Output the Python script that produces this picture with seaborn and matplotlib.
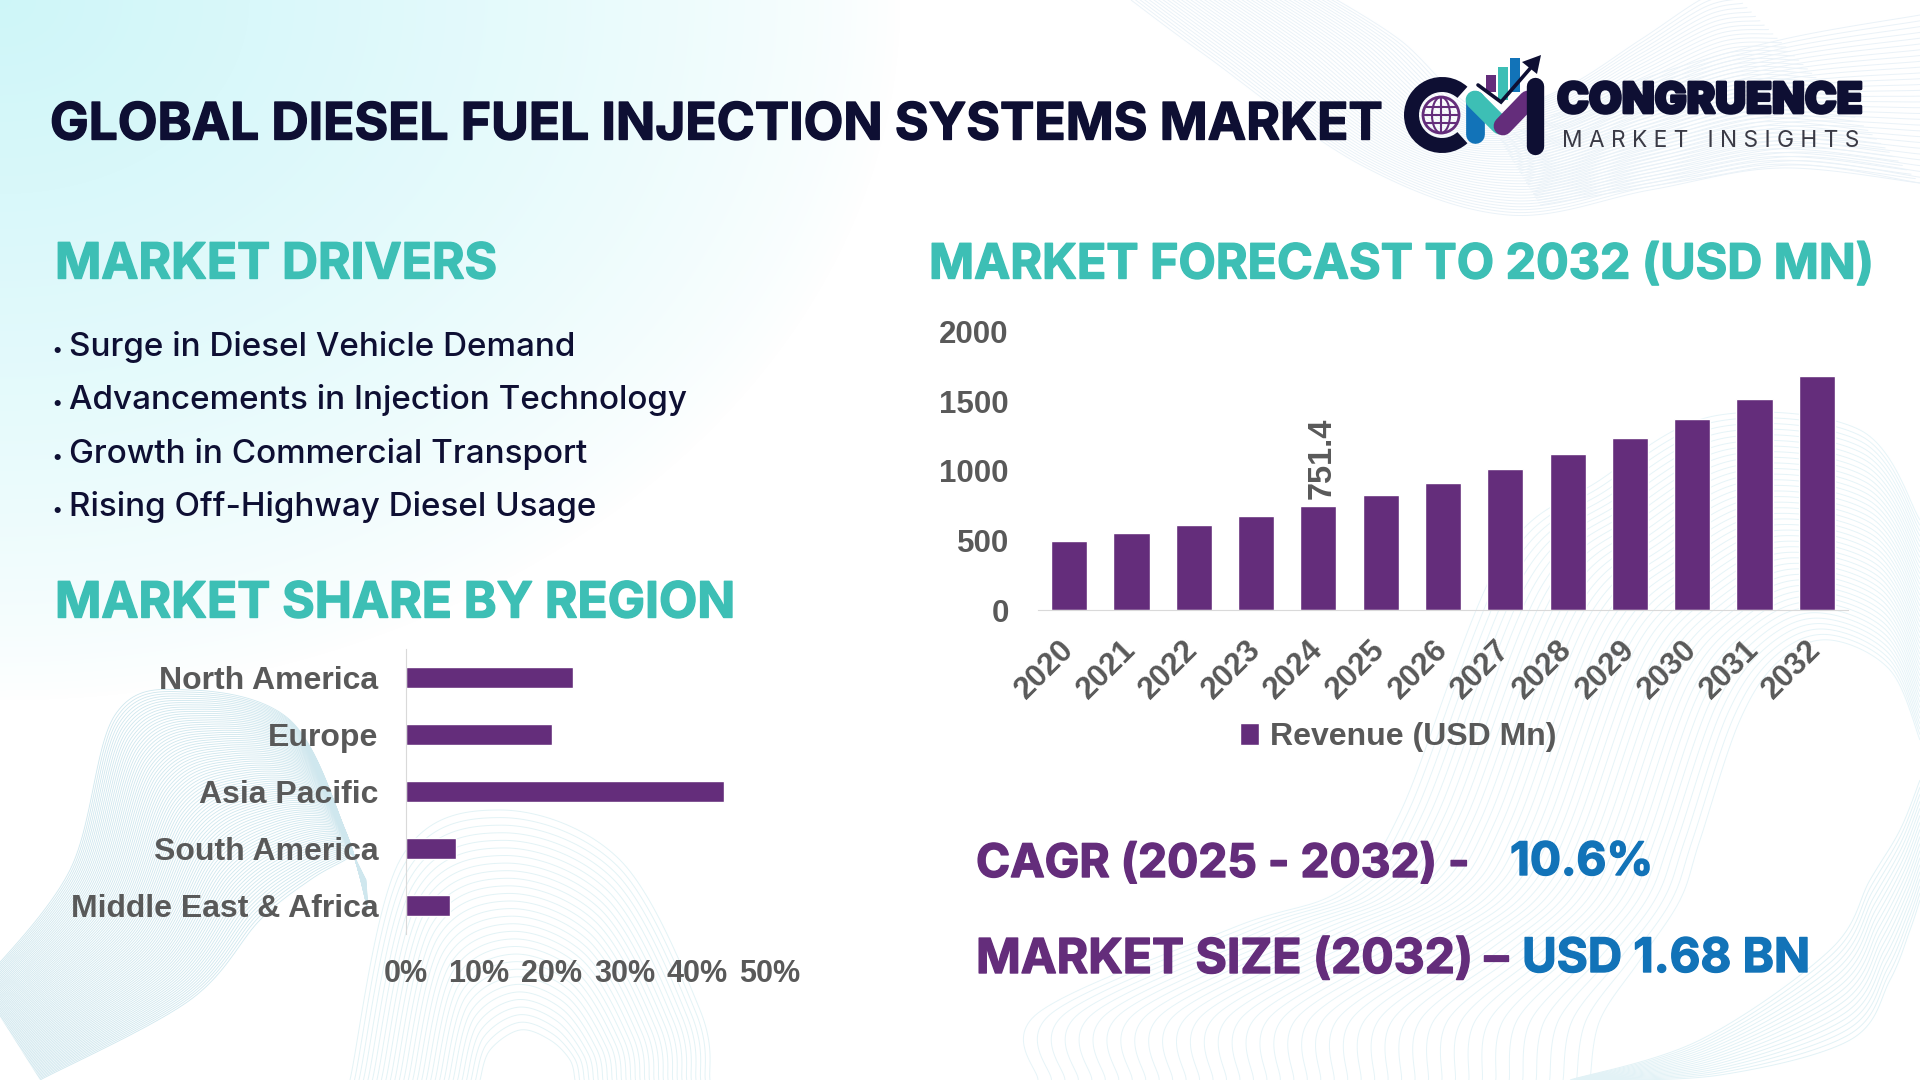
import numpy as np
import pandas as pd
import matplotlib
matplotlib.use("Agg")
import matplotlib.pyplot as plt
import matplotlib.patheffects as pe
import seaborn as sns
from matplotlib.collections import LineCollection
from matplotlib.patches import Circle, Ellipse, Wedge, Rectangle, Polygon

years = ["2020", "2021", "2022", "2023", "2024", "2025", "2026", "2027", "2028", "2029", "2030", "2031", "2032"]
revenue = [497, 554, 612, 677, 751.4, 828, 914, 1015, 1123, 1238, 1375, 1519, 1680]
revenue_labels = ["", "", "", "", "751.4", "", "", "", "", "", "", "", ""]
revenue_ticks = [0, 500, 1000, 1500, 2000]

regions = ["North America", "Europe", "Asia Pacific", "South America", "Middle East & Africa"]
shares = [22.9, 20.0, 43.7, 6.9, 6.1]
share_ticks = [0, 10, 20, 30, 40, 50]

drivers = [
    "Surge in Diesel Vehicle Demand",
    "Advancements in Injection Technology",
    "Growth in Commercial Transport",
    "Rising Off-Highway Diesel Usage",
]

NAVY = "#0E0F33"
TEAL = "#3DBFB5"
PURPLE = "#642D7B"
BLUE = "#1273B8"
GREY = "#595959"
WIDTH, HEIGHT = 1920, 1080

sns.set_style("white")
plt.rcParams["font.family"] = ["Liberation Sans", "DejaVu Sans"]
plt.rcParams["font.weight"] = "bold"

fig = plt.figure(figsize=(19.2, 10.8), dpi=100)
fig.patch.set_facecolor("white")


def px_axes(left, top, right, bottom):
    return fig.add_axes([left / WIDTH, 1 - bottom / HEIGHT, (right - left) / WIDTH, (bottom - top) / HEIGHT])


def spline(pts, n=30):
    p = np.array(pts, float)
    p = np.vstack([p[0], p, p[-1]])
    t = np.linspace(0, 1, n)[:, None]
    out = []
    for i in range(1, len(p) - 2):
        out.append(0.5 * (2 * p[i] + (p[i + 1] - p[i - 1]) * t
                          + (2 * p[i - 1] - 5 * p[i] + 4 * p[i + 1] - p[i + 2]) * t ** 2
                          + (3 * p[i] - p[i - 1] - 3 * p[i + 1] + p[i + 2]) * t ** 3))
    return np.vstack(out)


def ribbon(ax, curve_a, curve_b, n_lines, color, lw=0.7, alpha=1.0):
    a, b = spline(curve_a), spline(curve_b)
    lines = [(1 - s) * a + s * b for s in np.linspace(0, 1, n_lines)]
    ax.add_collection(LineCollection(lines, colors=color, linewidths=lw, alpha=alpha, zorder=0.5))


def fit_text(ax, x0, x1, baseline, label, color, family="Inter", weight="bold", stroke=0.0):
    txt = ax.text(x0, baseline, label, color=color, family=[family, "DejaVu Sans"], weight=weight,
                  fontsize=30, ha="left", va="baseline")
    renderer = fig.canvas.get_renderer()
    txt.set_fontsize(30 * (x1 - x0) / txt.get_window_extent(renderer).width)
    if stroke:
        txt.set_path_effects([pe.withStroke(linewidth=stroke, foreground=color)])
    return txt


# background layer, drawn in pixel coordinates
bg = fig.add_axes([0, 0, 1, 1], zorder=0)
bg.set_xlim(0, WIDTH)
bg.set_ylim(HEIGHT, 0)
bg.axis("off")

yy, xx = np.mgrid[0:HEIGHT, 0:WIDTH]
fade = np.clip(1 - np.sqrt((xx / 900) ** 2 + (yy / 700) ** 2), 0, 1) ** 0.75
rgb = np.ones((HEIGHT, WIDTH, 3))
tint = np.array([0.81, 0.965, 0.975])
rgb = rgb * (1 - fade[..., None]) + tint * fade[..., None]
bg.imshow(rgb, extent=(0, WIDTH, HEIGHT, 0), aspect="auto", zorder=0)

# wave line families
ribbon(bg, [(1131, 0), (1205, 55), (1361, 165), (1508, 215), (1650, 190), (1780, 168), (1920, 183)],
       [(1320, -10), (1400, 40), (1480, 110), (1560, 90), (1640, 40), (1700, 0), (1730, -10)], 45, "#EAF2F8")
ribbon(bg, [(1500, 140), (1640, 80), (1780, 40), (1920, 15)],
       [(1540, 205), (1690, 180), (1800, 165), (1920, 183)], 30, "#EAF2F8")
ribbon(bg, [(1038, 1080), (1038, 1013), (1235, 927), (1341, 890), (1400, 813), (1500, 560), (1600, 480), (1714, 416), (1860, 430), (1920, 520)],
       [(1590, 1080), (1600, 1020), (1640, 960), (1680, 900), (1700, 840), (1740, 720), (1780, 660), (1830, 640), (1890, 670), (1920, 740)], 42, "#E6F4F8")
ribbon(bg, [(1570, 1080), (1700, 1040), (1830, 950), (1870, 880), (1900, 830), (1920, 780)],
       [(1590, 1080), (1720, 1075), (1850, 1040), (1890, 980), (1910, 930), (1920, 900)], 18, "#E2F2F6")
ribbon(bg, [(-20, 985), (70, 870), (115, 715), (190, 690), (290, 720), (345, 830), (368, 910)],
       [(40, 1080), (190, 1000), (260, 920), (310, 880), (345, 860), (352, 855), (366, 880)], 90, "#CFE7EE", lw=0.6)
ribbon(bg, [(350, 1080), (400, 860), (500, 810), (620, 860), (700, 1010), (710, 1080)],
       [(480, 1080), (490, 1050), (520, 1030), (550, 1040), (570, 1060), (575, 1080)], 30, "#E3F3F6")

# header and section text
fit_text(bg, 50, 1382, 139.5, "GLOBAL DIESEL FUEL INJECTION SYSTEMS MARKET", NAVY, stroke=1.0)
fit_text(bg, 55, 497, 278.5, "MARKET DRIVERS", TEAL, stroke=1.0)
fit_text(bg, 55, 735, 617.5, "MARKET SHARE BY REGION", TEAL, stroke=1.0)
fit_text(bg, 929, 1873, 278.5, "MARKET FORECAST TO 2032 (USD MN)", TEAL, stroke=1.0)

driver_size = fit_text(bg, 69, 688, 409, drivers[1], NAVY, weight="medium").get_fontsize()
for label, baseline in zip([drivers[0], drivers[2], drivers[3]], [356, 463, 516]):
    bg.text(69, baseline, label, color=NAVY, family=["Inter", "DejaVu Sans"], weight="medium", fontsize=driver_size)
for baseline in [356, 409, 463, 516]:
    bg.text(52, baseline, "•", color=NAVY, family=["Inter", "DejaVu Sans"], fontsize=14)

fit_text(bg, 976, 1469, 877, "CAGR (2025 - 2032) -", PURPLE, stroke=1.0)
fit_text(bg, 1510, 1653, 875, "10.6%", BLUE, stroke=1.0)
fit_text(bg, 976, 1508, 973, "MARKET SIZE (2032) –", PURPLE, stroke=1.0)
fit_text(bg, 1522, 1810, 972, "USD 1.68 BN", BLUE, stroke=1.0)

# logo
bg.add_patch(Wedge((1442, 115), 38, 48, 312, width=15, color=NAVY, lw=0))
bg.add_patch(Circle((1441, 115), 18, fill=False, ec=PURPLE, lw=2))
bg.add_patch(Ellipse((1441, 115), 18, 36, fill=False, ec=PURPLE, lw=1.5))
for dy in (-8, 0, 8):
    half = np.sqrt(18 ** 2 - dy ** 2)
    bg.plot([1441 - half, 1441 + half], [115 + dy, 115 + dy], color=PURPLE, lw=1.5)
bg.plot([1441, 1441], [97, 133], color=PURPLE, lw=1.5)
for x0, top, bottom, col in [(1486, 75, 92, PURPLE), (1498, 67, 100, TEAL), (1510, 58, 92, BLUE)]:
    bg.add_patch(Rectangle((x0, top), 9.5, bottom - top, color=col, lw=0))
bg.plot([1475, 1475], [100, 134], color=BLUE, lw=13.5, solid_capstyle="round")
bg.plot([1475, 1500], [100, 125], color=TEAL, lw=13.5, solid_capstyle="round")
bg.plot([1503, 1528], [126, 100], color=PURPLE, lw=13.5, solid_capstyle="round")
bg.plot([1534.5, 1534.5], [86, 146], color=NAVY, lw=12.5, solid_capstyle="round")
bg.plot([1478, 1501, 1534], [85, 102, 64], color=NAVY, lw=2.6, solid_joinstyle="miter")
bg.add_patch(Polygon([(1541, 55), (1522, 62), (1537, 74)], color=NAVY, lw=0))
fit_text(bg, 1557, 1863, 113, "CONGRUENCE", NAVY, weight="black", stroke=2.0)
fit_text(bg, 1562, 1860, 147, "M A R K E T   I N S I G H T S", "#3A3A45", weight="normal")

# revenue forecast chart
ax_rev = px_axes(1038, 332, 1848, 610)
ax_rev.patch.set_visible(False)
sns.barplot(x=years, y=revenue, color=PURPLE, saturation=1, width=0.58, label="Revenue (USD Mn)", ax=ax_rev)
ax_rev.set_ylim(0, 2000)
ax_rev.set_yticks(revenue_ticks)
ax_rev.set_xlabel("")
ax_rev.set_ylabel("")
bar_texts = ax_rev.bar_label(ax_rev.containers[0], labels=revenue_labels, rotation=90, color=GREY, fontsize=23.5, padding=5)
for t in bar_texts:
    t.xyann = (3, t.xyann[1])
sns.despine(ax=ax_rev, left=True)
ax_rev.spines["bottom"].set_color("#D9D9D9")
ax_rev.tick_params(axis="y", length=0, pad=21, labelsize=22.5, labelcolor=GREY)
ax_rev.tick_params(axis="x", length=0, pad=25, labelsize=22.5, labelcolor=GREY)
plt.setp(ax_rev.get_xticklabels(), rotation=45, ha="right", rotation_mode="anchor", va="center")
ax_rev.legend(loc="center", bbox_to_anchor=((1398 - 1038) / 810, 1 - (737 - 332) / 278), frameon=False,
              fontsize=23, labelcolor=GREY, handlelength=0.6, handleheight=0.7, handletextpad=0.35)

# regional share chart
ax_share = px_axes(406, 649, 770, 934)
ax_share.patch.set_visible(False)
sns.barplot(y=regions, x=shares, orient="h", color=PURPLE, saturation=1, width=0.37, ax=ax_share)
ax_share.set_xlim(0, 50)
ax_share.set_xticks(share_ticks)
ax_share.set_xticklabels([f"{v}%" for v in share_ticks])
ax_share.set_xlabel("")
ax_share.set_ylabel("")
sns.despine(ax=ax_share, bottom=True)
ax_share.spines["left"].set_color("#D9D9D9")
ax_share.tick_params(axis="x", length=0, pad=18, labelsize=22, labelcolor=GREY)
ax_share.tick_params(axis="y", length=0, pad=20, labelsize=23, labelcolor=GREY)

fig.savefig("out.png", dpi=100)
